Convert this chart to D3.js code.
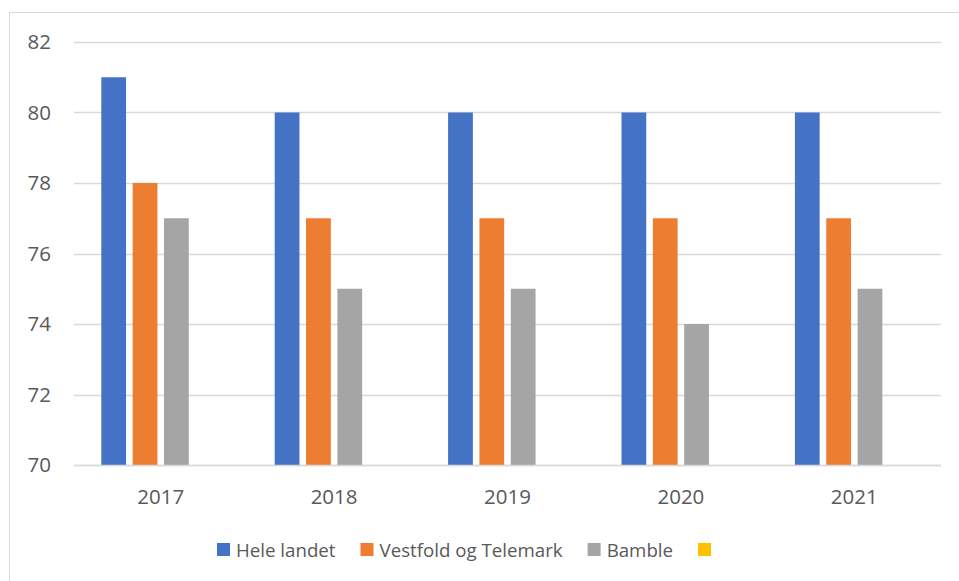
<!DOCTYPE html>
<html>
<head>
<meta charset="utf-8">
<script src="https://cdn.jsdelivr.net/npm/d3@7"></script>
<style>
  body { margin: 0; background: #fff; }
  text { font-family: "Open Sans", "Noto Sans", sans-serif; fill: #595959; }
</style>
</head>
<body>
<script>
  var years = ["2017", "2018", "2019", "2020", "2021"];
  var seriesNames = ["Hele landet", "Vestfold og Telemark", "Bamble", ""];
  var heleLandet = [81, 80, 80, 80, 80];
  var vestfold = [78, 77, 77, 77, 77];
  var bamble = [77, 75, 75, 74, 75];
  var empty = [null, null, null, null, null];
  var yTicks = [70, 72, 74, 76, 78, 80, 82];
  var colors = ["#4472C4", "#ED7D31", "#A5A5A5", "#FFC000"];

  var allSeries = [heleLandet, vestfold, bamble, empty];

  var W = 959, H = 581;
  var plotL = 74, plotR = 941, plotT = 42, plotB = 465;

  var svg = d3.select("body").append("svg")
      .attr("width", W)
      .attr("height", H);

  // outer chart border
  svg.append("rect")
      .attr("x", 9.5).attr("y", 12.5)
      .attr("width", W).attr("height", H)
      .attr("fill", "none")
      .attr("stroke", "#D9D9D9");

  var y = d3.scaleLinear().domain([70, 82]).range([plotB, plotT]);

  var x0 = d3.scaleBand().domain(years).range([plotL, plotR]);
  var pad = 27.3;
  var x1 = d3.scaleBand().domain(d3.range(seriesNames.length))
      .range([pad, x0.bandwidth() - pad])
      .paddingInner(0.21);

  // gridlines
  svg.append("g").selectAll("line")
      .data(yTicks)
      .enter().append("line")
      .attr("x1", plotL).attr("x2", plotR)
      .attr("y1", function(d) { return Math.round(y(d)) + 0.5; })
      .attr("y2", function(d) { return Math.round(y(d)) + 0.5; })
      .attr("stroke", "#D9D9D9")
      .attr("stroke-width", 1.3);

  // y labels
  svg.append("g").selectAll("text")
      .data(yTicks)
      .enter().append("text")
      .attr("x", 51)
      .attr("y", function(d) { return y(d); })
      .attr("dy", "0.36em")
      .attr("text-anchor", "end")
      .style("font-size", "20.5px")
      .text(function(d) { return d; });

  // bars
  var groups = svg.append("g").selectAll("g")
      .data(years)
      .enter().append("g")
      .attr("transform", function(d) { return "translate(" + x0(d) + ",0)"; });

  groups.selectAll("rect")
      .data(function(d, i) {
        return allSeries.map(function(s, k) { return { k: k, v: s[i] }; })
          .filter(function(e) { return e.v != null; });
      })
      .enter().append("rect")
      .attr("x", function(d) { return x1(d.k); })
      .attr("width", x1.bandwidth())
      .attr("y", function(d) { return y(d.v); })
      .attr("height", function(d) { return y(70) - y(d.v); })
      .attr("fill", function(d) { return colors[d.k]; });

  // x axis line on top of bars
  svg.append("line")
      .attr("x1", plotL).attr("x2", plotR)
      .attr("y1", plotB + 0.5).attr("y2", plotB + 0.5)
      .attr("stroke", "#D9D9D9")
      .attr("stroke-width", 1.5);

  // x labels
  svg.append("g").selectAll("text")
      .data(years)
      .enter().append("text")
      .attr("x", function(d) { return x0(d) + x0.bandwidth() / 2; })
      .attr("y", 504)
      .attr("text-anchor", "middle")
      .style("font-size", "20.5px")
      .text(function(d) { return d; });

  // legend
  var legend = svg.append("g");
  var lx = 217;
  seriesNames.forEach(function(name, k) {
    legend.append("rect")
        .attr("x", lx).attr("y", 543)
        .attr("width", 13).attr("height", 13)
        .attr("fill", colors[k]);
    var t = legend.append("text")
        .attr("x", lx + 19)
        .attr("y", 557)
        .style("font-size", "18.7px")
        .text(name);
    lx += 19 + t.node().getComputedTextLength() + 25;
  });
</script>
</body>
</html>
